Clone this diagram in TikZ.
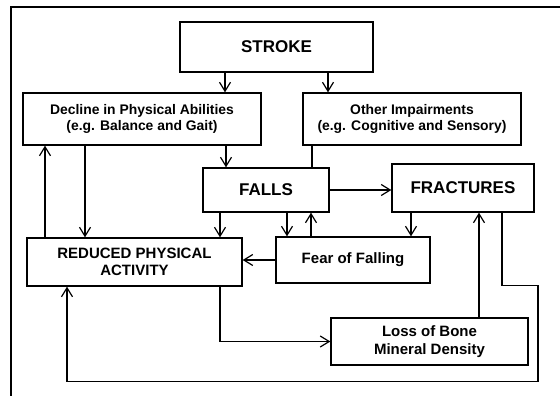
\documentclass[tikz,border=0pt]{standalone}
\usepackage{fontspec}
\setmainfont{Liberation Sans}
\usetikzlibrary{arrows.meta}

\begin{document}
\begin{tikzpicture}[x=1pt,y=-1pt,font=\bfseries,
  box/.style={draw,line width=1.3pt,align=center,inner sep=0pt},
  big/.style={font=\bfseries\fontsize{17}{20}\selectfont},
  mid/.style={font=\bfseries\fontsize{15}{17.5}\selectfont},
  small/.style={font=\bfseries\fontsize{13.9}{15.5}\selectfont},
  arr/.style={line width=1.2pt,-{Straight Barb[length=9pt,width=11pt]}}]
\useasboundingbox (0,0) rectangle (560,396);
\draw[line width=1.6pt] (11,396) -- (11,7) -- (560,7);
% boxes
\node[box,big,minimum width=193pt,minimum height=50pt] (stroke) at (276.5,47) {STROKE};
\node[box,small,minimum width=238pt,minimum height=52pt] (decline) at (142,119)
  {Decline in Physical Abilities\\(e.g. Balance and Gait)};
\node[box,small,minimum width=218pt,minimum height=52pt] (other) at (412,119)
  {Other Impairments\\(e.g. Cognitive and Sensory)};
\node[box,big,minimum width=126pt,minimum height=44pt] (falls) at (266,190) {FALLS};
\node[box,big,minimum width=142pt,minimum height=48pt] (fract) at (463,188) {FRACTURES};
\node[box,mid,minimum width=154pt,minimum height=46pt] (fear) at (353,260) {Fear of Falling};
\node[box,mid,minimum width=215pt,minimum height=48pt] (rpa) at (134.5,262)
  {REDUCED PHYSICAL\\ACTIVITY};
\node[box,mid,minimum width=197pt,minimum height=47pt] (loss) at (429.5,341.5)
  {Loss of Bone\\Mineral Density};
% downward arrows
\foreach \A/\S/\B in {stroke/-51.5/decline, stroke/51.5/other, decline/84/falls,
  decline/-57/rpa, falls/-46/rpa, falls/21/fear, fract/-52/fear}
  \draw[arr] ([xshift=\S pt]\A.south) -- ([xshift=\S pt]\A.south |- \B.north);
% upward arrows
\foreach \A/\S/\B in {fear/-42/falls, rpa/-89.5/decline, loss/49.5/fract}
  \draw[arr] ([xshift=\S pt]\A.north) -- ([xshift=\S pt]\A.north |- \B.south);
\draw[line width=1.2pt] ([xshift=-100pt]other.south) -- ([xshift=-100pt]other.south |- falls.north);
\draw[arr] (falls.east) -- (falls.east -| fract.west);
\draw[arr] (fear.west) -- (fear.west -| rpa.east);
\draw[arr] ([xshift=85.5pt]rpa.south) |- (loss.west);
\draw[arr] ([xshift=39pt]fract.south) -- ++(0,73) -- ++(36,0) -- ++(0,96)
  -| ([xshift=-67.5pt]rpa.south);
\end{tikzpicture}
\end{document}
